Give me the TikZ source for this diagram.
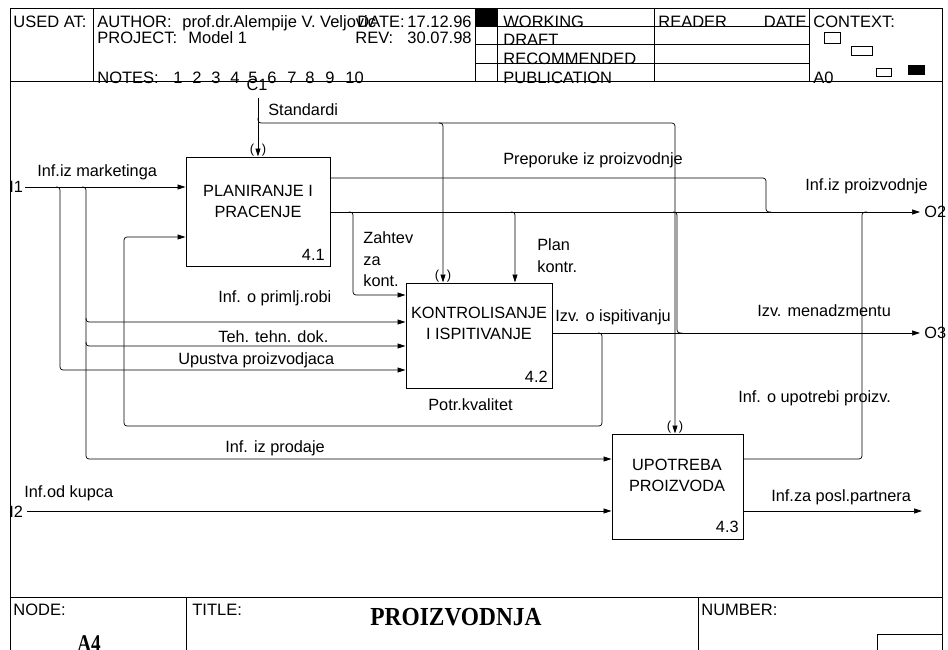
\documentclass[tikz,border=0pt]{standalone}
\usepackage{fontspec}
\usepackage{graphicx}
\setmainfont{Liberation Sans}
\newfontfamily\serifbold{Liberation Serif}
\usetikzlibrary{arrows.meta}
\begin{document}
\begin{tikzpicture}[x=1pt,y=-1pt,line width=0.7pt,
  flow/.style={draw,rounded corners=3pt},
  arr/.style={flow,-{Triangle[length=8pt,width=5pt]}},
  lbl/.style={font=\fontsize{16.3}{18}\selectfont,inner sep=0pt,anchor=west},
  hdr/.style={font=\fontsize{16.5}{18}\selectfont,inner sep=0pt,anchor=base west},
  hdre/.style={hdr,anchor=base east},
  act/.style={draw,line width=1pt,inner sep=0pt},
  acttxt/.style={font=\fontsize{16.3}{21}\selectfont,align=center,inner sep=0pt},
  actnum/.style={font=\fontsize{16.3}{18}\selectfont,inner sep=0pt,anchor=east},
  tun/.style={font=\fontsize{13}{14}\selectfont,inner sep=0pt}
]
\useasboundingbox (0,0) rectangle (948,649);
% ---------- frame and header ----------
\draw (10,8) rectangle (942,700);
\draw (10,81) -- (942,81);
\draw (93,8) -- (93,81);
\draw (475,8) -- (475,81);
\draw (497,8) -- (497,81);
\draw (654,8) -- (654,81);
\draw (809,8) -- (809,81);
\draw (475,26) -- (809,26);
\draw (475,44) -- (809,44);
\draw (475,63) -- (809,63);
\fill (476,8) rectangle (497,26);
\node[hdr] (usedat) at (13,27) {USED AT:};
\node[hdr] (author) at (97,27) {AUTHOR:};
\node[hdr] (authname) at (182,27) {prof.dr.Alempije V. Veljovic};
\node[hdr] (datel) at (357,27) {DATE:};
\node[hdre] (datev) at (472,27) {17.12.96};
\node[hdr] (project) at (97,43) {PROJECT:};
\node[hdr] (projname) at (188,43) {Model 1};
\node[hdr] (revl) at (355,43) {REV:};
\node[hdre] (revv) at (472,43) {30.07.98};
\node[hdr] (notes) at (97,83) {NOTES:};
\foreach \n/\xx in {1/173,2/192,3/211,4/230,5/248,6/267,7/287,8/305,9/325,10/345}
  \node[hdr] (note\n) at (\xx,83) {\n};
\node[hdr] (working) at (503,27) {WORKING};
\node[hdr] (draft) at (503,45) {DRAFT};
\node[hdr] (recom) at (503,64) {RECOMMENDED};
\node[hdr] (publ) at (503,83) {PUBLICATION};
\node[hdr] (reader) at (658,27) {READER};
\node[hdre] (rdate) at (807,27) {DATE};
\node[hdr] (context) at (813,27) {CONTEXT:};
\node[hdr] (a0) at (813,83) {A0};
\draw[line width=0.6pt] (824,32) rectangle (840,43);
\draw[line width=0.6pt] (851,46) rectangle (872,55);
\draw[line width=0.6pt] (876,68) rectangle (891,76);
\fill (908,65) rectangle (925,75);
% ---------- footer ----------
\draw (10,597) -- (942,597);
\draw (186,597) -- (186,700);
\draw (698,597) -- (698,700);
\draw (877,634) rectangle (942,700);
\node[hdr,anchor=west] (nodel) at (13,610) {NODE:};
\node[hdr,anchor=west] (titlel) at (192,610) {TITLE:};
\node[hdr,anchor=west] (numberl) at (701,610) {NUMBER:};
\node[inner sep=0pt] (title) at (456,617) {\scalebox{0.9}[1]{\serifbold\bfseries\fontsize{26}{28}\selectfont PROIZVODNJA}};
\node[inner sep=0pt,anchor=base] (nodeid) at (89,651) {\scalebox{0.8}[1]{\serifbold\bfseries\fontsize{24}{26}\selectfont A4}};
% ---------- activity boxes ----------
\node[act,minimum width=144pt,minimum height=109pt] (b1) at (258,211.5) {};
\node[act,minimum width=146pt,minimum height=105pt] (b2) at (479,335.5) {};
\node[act,minimum width=131pt,minimum height=105pt] (b3) at (677.5,486.5) {};
\node[acttxt] (t1) at (258,201) {PLANIRANJE I\\PRACENJE};
\node[acttxt] (t2) at (479,323.5) {KONTROLISANJE\\I ISPITIVANJE};
\node[acttxt] (t3) at (677,475) {UPOTREBA\\PROIZVODA};
\node[actnum] (n1) at (325,255) {4.1};
\node[actnum] (n2) at (548,377) {4.2};
\node[actnum] (n3) at (739,527) {4.3};
% ---------- boundary labels ----------
\node[lbl] (i1l) at (9,187) {I1};
\node[lbl] (i2l) at (9,512) {I2};
\node[lbl] (o2l) at (924,212) {O2};
\node[lbl] (o3l) at (924,333) {O3};
\node[lbl,anchor=center] (c1l) at (257,85) {C1};
% ---------- coordinates ----------
\coordinate (c1) at (258,98);
\coordinate (sj) at (258,123);
\coordinate (s2) at (443,123);
\coordinate (s3) at (675,123);
\coordinate (i1) at (25,187);
\coordinate (i2) at (27,511);
\coordinate (o2) at (920,212);
\coordinate (o3) at (920,333);
\coordinate (o4) at (922,511);
% ---------- controls ----------
\draw[arr] (c1) -- (c1 |- b1.north);
\draw[arr] (258,118) -- (sj) -- (s3) -- (s3 |- b3.north);
\draw[arr] (439,123) -- (s2) -- (s2 |- b2.north);
% ---------- outputs ----------
\draw[arr] (o2 -| b1.east) -- (o2);
\draw[flow] (b1.east |- 0,178) -- (766,178) -- (766,212) -- (771,212);
\draw[arr] (349,212) -- (353,212) -- (353,295) -- (b2.west |- 0,295);
\draw[arr] (511,212) -- (515,212) -- (515,0 |- b2.north);
\draw[flow] (673,212) -- (677,212) -- (677,333) -- (682,333);
\draw[arr] (o3 -| b2.east) -- (o3);
\draw[arr] (598,333) -- (602,333) -- (602,426) -- (124,426) -- (124,237) -- (b1.west |- 0,237);
\draw[flow] (b3.east |- 0,459) -- (862,459) -- (862,212) -- (867,212);
\draw[arr] (o4 -| b3.east) -- (o4);
% ---------- inputs ----------
\draw[arr] (i1) -- (i1 -| b1.west);
\draw[arr] (56,187) -- (60,187) -- (60,370) -- (b2.west |- 0,370);
\draw[arr] (82,187) -- (86,187) -- (86,459) -- (b3.west |- 0,459);
\draw[arr] (86,318) -- (86,322) -- (b2.west |- 0,322);
\draw[arr] (86,342) -- (86,346) -- (b2.west |- 0,346);
\draw[arr] (i2) -- (i2 -| b3.west);
% ---------- tunnel marks ----------
\node[tun] (tp1a) at (252,150) {(};
\node[tun] (tp1b) at (264,150) {)};
\node[tun] (tp2a) at (437,276) {(};
\node[tun] (tp2b) at (449,276) {)};
\node[tun] (tp3a) at (669,427) {(};
\node[tun] (tp3b) at (681,427) {)};
% ---------- arrow labels ----------
\node[lbl] (lstd) at (268,110) {Standardi};
\node[lbl] (lmark) at (37,172) {Inf.iz marketinga};
\node[lbl] (lprep) at (503,160) {Preporuke iz proizvodnje};
\node[lbl] (liproz) at (805,186) {Inf.iz proizvodnje};
\node[lbl,align=left,font=\fontsize{16.3}{21.5}\selectfont] (lzah) at (363,259.5) {Zahtev\\za\\kont.};
\node[lbl,align=left,font=\fontsize{16.3}{21.5}\selectfont] (lplan) at (537,255.5) {Plan\\kontr.};
\node[lbl] (lrobi) at (218,298) {Inf. o primlj.robi};
\node[lbl] (lteh) at (218,337) {Teh. tehn. dok.};
\node[lbl] (lupu) at (178,360) {Upustva proizvodjaca};
\node[lbl] (lprod) at (225,448) {Inf. iz prodaje};
\node[lbl] (lpotr) at (428,405) {Potr.kvalitet};
\node[lbl] (lisp) at (555,317) {Izv. o ispitivanju};
\node[lbl] (lmen) at (757,311) {Izv. menadzmentu};
\node[lbl] (lupo) at (738,398) {Inf. o upotrebi proizv.};
\node[lbl] (lkup) at (24,493) {Inf.od kupca};
\node[lbl] (lpart) at (771,497) {Inf.za posl.partnera};
\end{tikzpicture}
\end{document}
